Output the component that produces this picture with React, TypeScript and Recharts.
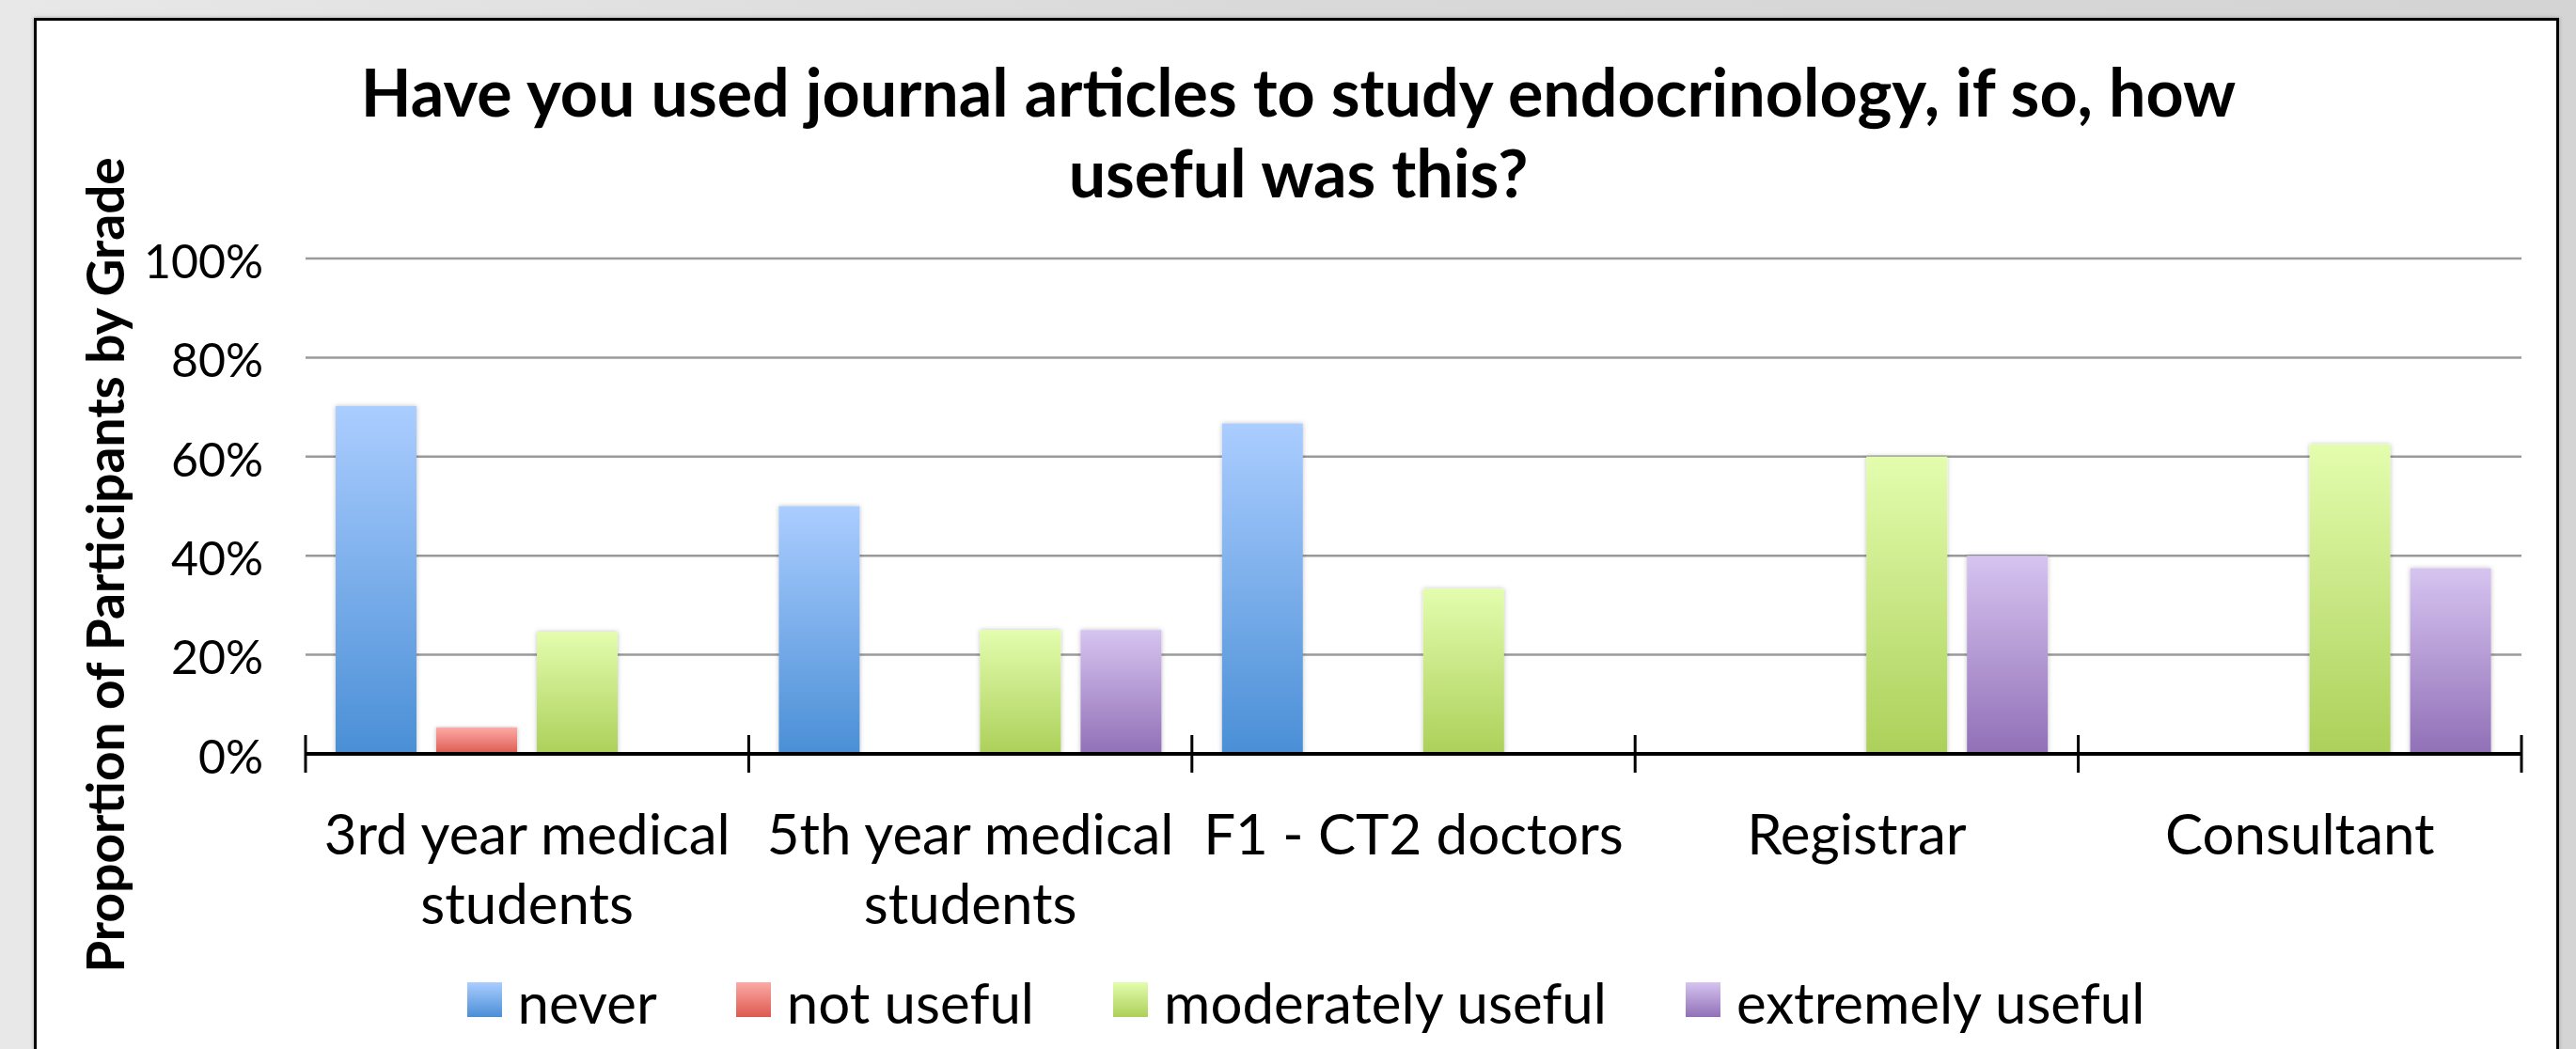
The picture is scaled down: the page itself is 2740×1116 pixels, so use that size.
import React from 'react';
import { BarChart, Bar, XAxis, YAxis, CartesianGrid, Legend, Label } from 'recharts';

const categories = [
  '3rd year medical students',
  '5th year medical students',
  'F1 - CT2 doctors',
  'Registrar',
  'Consultant',
];
const neverValues = [0.702, 0.5, 0.667, 0, 0];
const notUsefulValues = [0.053, 0, 0, 0, 0];
const moderatelyUsefulValues = [0.246, 0.25, 0.333, 0.6, 0.625];
const extremelyUsefulValues = [0, 0.25, 0, 0.4, 0.375];
const seriesNames = ['never', 'not useful', 'moderately useful', 'extremely useful'];
const seriesKeys = ['never', 'notUseful', 'moderatelyUseful', 'extremelyUseful'];
const yTicks = [0, 0.2, 0.4, 0.6, 0.8, 1];
const titleLines = ['Have you used journal articles to study endocrinology, if so, how', 'useful was this?'];
const yAxisTitle = 'Proportion of Participants by Grade';

const seriesStyles = [
  { id: 'gNever', top: '#abcdff', bottom: '#4a8fd6' },
  { id: 'gNot', top: '#fcaaa6', bottom: '#dc5a4f' },
  { id: 'gMod', top: '#e3fdae', bottom: '#acd05a' },
  { id: 'gExt', top: '#d6c4f0', bottom: '#9170b7' },
];

const data = categories.map((c, i) => ({
  category: c,
  never: neverValues[i],
  notUseful: notUsefulValues[i],
  moderatelyUseful: moderatelyUsefulValues[i],
  extremelyUseful: extremelyUsefulValues[i],
}));

const FONT = 'Lato, "Open Sans", sans-serif';
const X_FONT_SIZE = 60;

let measureCtx: CanvasRenderingContext2D | null = null;
function wrapWords(text: string, maxWidth: number): string[] {
  if (!measureCtx) measureCtx = document.createElement('canvas').getContext('2d');
  const ctx = measureCtx;
  const words = String(text).split(' ');
  if (!ctx) return [String(text)];
  ctx.font = `${X_FONT_SIZE}px Lato`;
  const lines: string[] = [];
  let cur = '';
  for (const w of words) {
    const test = cur ? cur + ' ' + w : w;
    if (cur && ctx.measureText(test).width > maxWidth) {
      lines.push(cur);
      cur = w;
    } else {
      cur = test;
    }
  }
  if (cur) lines.push(cur);
  return lines;
}

const CategoryTick = (props: any) => {
  const { x, y, payload, index, visibleTicksCount, width } = props;
  const count = visibleTicksCount || categories.length;
  const half = payload && payload.offset ? payload.offset : width / count / 2;
  const lines = wrapWords(payload.value, half * 2 - 8);
  return (
    <g>
      <line x1={x - half} x2={x - half} y1={y - 20} y2={y + 20} stroke="#000" strokeWidth={3} />
      {index === count - 1 && (
        <line x1={x + half} x2={x + half} y1={y - 20} y2={y + 20} stroke="#000" strokeWidth={3} />
      )}
      <text x={x} y={y + 107} textAnchor="middle" fill="#000" fontFamily={FONT} fontSize={X_FONT_SIZE}>
        {lines.map((l, i) => (
          <tspan key={i} x={x} dy={i === 0 ? 0 : 74}>
            {l}
          </tspan>
        ))}
      </text>
    </g>
  );
};

const renderLegend = (props: any) => {
  const payload = [...(props.payload || [])].sort(
    (a: any, b: any) => seriesKeys.indexOf(a.dataKey) - seriesKeys.indexOf(b.dataKey)
  );
  return (
    <div
      style={{
        display: 'flex',
        justifyContent: 'center',
        alignItems: 'flex-start',
        fontFamily: FONT,
        fontSize: 60,
        lineHeight: '60px',
        color: '#000',
        whiteSpace: 'nowrap',
      }}
    >
      {payload.map((entry: any, i: number) => {
        const idx = seriesKeys.indexOf(entry.dataKey);
        const st = seriesStyles[idx >= 0 ? idx : i];
        return (
          <div key={i} style={{ display: 'flex', alignItems: 'flex-start', marginRight: i < payload.length - 1 ? 84 : 0 }}>
            <div
              style={{
                width: 37,
                height: 37,
                marginTop: 9,
                marginRight: 17,
                background: `linear-gradient(to bottom, ${st.top}, ${st.bottom})`,
              }}
            />
            <span>{entry.value}</span>
          </div>
        );
      })}
    </div>
  );
};

export default function App() {
  return (
    <div
      style={{
        position: 'absolute',
        left: 0,
        top: 0,
        width: 2740,
        height: 1116,
        overflow: 'hidden',
        background: 'linear-gradient(to right, #e8e8e8, #d9d9d9 50%, #d4d4d4)',
      }}
    >
      <div
        style={{
          position: 'absolute',
          left: 36,
          top: 19,
          width: 2680,
          height: 1200,
          background: '#fff',
          borderLeft: '3px solid #000',
          borderTop: '3px solid #000',
          borderRight: '3px solid #000',
          boxShadow: '0 0 4px rgba(0,0,0,0.25)',
        }}
      />
      <div
        style={{
          position: 'absolute',
          left: 38,
          top: 54,
          width: 2686,
          textAlign: 'center',
          fontFamily: FONT,
          fontWeight: 700,
          fontSize: 70,
          lineHeight: '86px',
          color: '#000',
        }}
      >
        {titleLines[0]}
        <br />
        {titleLines[1]}
      </div>
      <div style={{ position: 'absolute', left: 0, top: 0 }}>
        <BarChart
          width={2740}
          height={1116}
          data={data}
          margin={{ top: 275, right: 58, left: 0, bottom: 114 }}
          barCategoryGap={32}
          barGap={21}
        >
          <defs>
            {seriesStyles.map((s) => (
              <linearGradient key={s.id} id={s.id} x1="0" y1="0" x2="0" y2="1">
                <stop offset="0%" stopColor={s.top} />
                <stop offset="100%" stopColor={s.bottom} />
              </linearGradient>
            ))}
            <filter id="barShadow" x="-20%" y="-5%" width="140%" height="110%">
              <feDropShadow dx="0" dy="0" stdDeviation="2.5" floodColor="#000" floodOpacity="0.25" />
            </filter>
          </defs>
          <CartesianGrid vertical={false} stroke="#9a9a9a" strokeWidth={2.5} />
          <XAxis
            dataKey="category"
            interval={0}
            tickLine={false}
            tickSize={0}
            tickMargin={0}
            height={200}
            axisLine={{ stroke: '#000', strokeWidth: 4 }}
            tick={<CategoryTick />}
          />
          <YAxis
            width={325}
            domain={[0, 1]}
            ticks={yTicks}
            tickFormatter={(v: number) => `${Math.round(v * 100)}%`}
            axisLine={false}
            tickLine={false}
            tickSize={0}
            tickMargin={45}
            tick={{ fill: '#000', fontSize: 50, fontFamily: FONT, dy: 3 }}
          >
            <Label
              content={() => (
                <text
                  x={132}
                  y={601}
                  transform="rotate(-90 132 601)"
                  textAnchor="middle"
                  fontFamily={FONT}
                  fontWeight={700}
                  fontSize={55}
                  fill="#000"
                >
                  {yAxisTitle}
                </text>
              )}
            />
          </YAxis>
          <Legend
            content={renderLegend}
            wrapperStyle={{ position: 'absolute', left: 39, top: 1036, width: 2700, height: 0 }}
          />
          {seriesKeys.map((k, i) => (
            <Bar
              key={k}
              dataKey={k}
              name={seriesNames[i]}
              fill={`url(#${seriesStyles[i].id})`}
              filter="url(#barShadow)"
              isAnimationActive={false}
            />
          ))}
        </BarChart>
      </div>
    </div>
  );
}
